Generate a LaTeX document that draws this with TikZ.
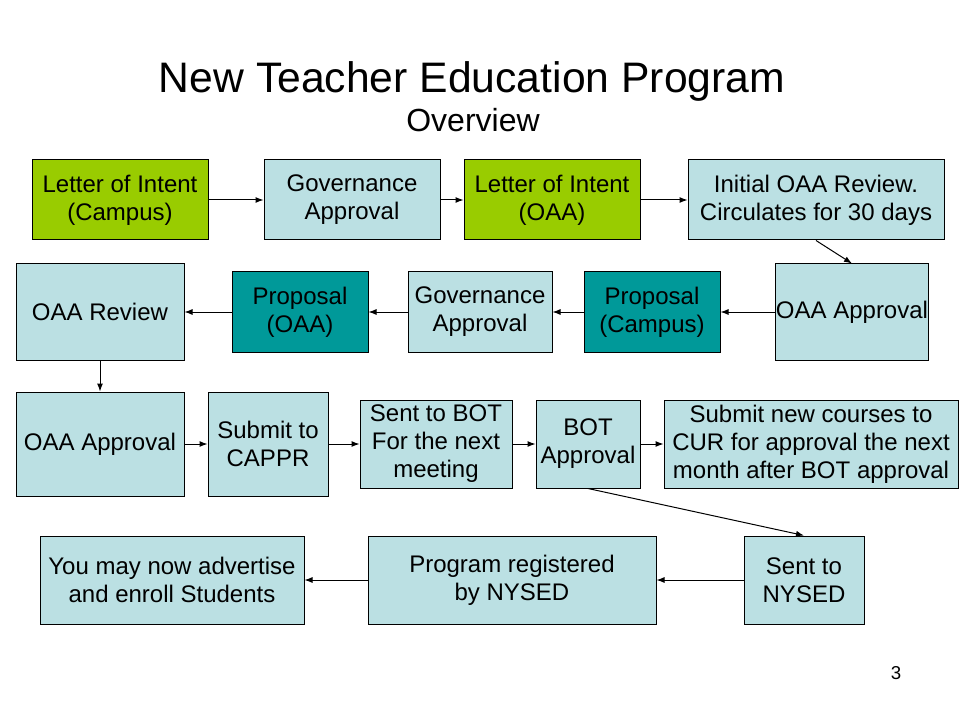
\documentclass[tikz,border=0pt]{standalone}
\usepackage{fontspec}
\setmainfont{Liberation Sans}
\usetikzlibrary{arrows.meta}
\definecolor{paleblue}{RGB}{187,224,227}
\definecolor{lime}{RGB}{153,204,0}
\definecolor{darkteal}{RGB}{0,153,153}

\begin{document}
\begin{tikzpicture}[x=0.75pt, y=-0.75pt, box/.style = {draw, line width=0.75pt, inner sep=0pt, align=center, font=\fontsize{18}{21}\selectfont}, sz/.style 2 args = {minimum width=#1*0.75pt, minimum height=#2*0.75pt}, lb/.style = {box, fill=paleblue}, gr/.style = {box, fill=lime}, tq/.style = {box, fill=darkteal}, arr/.style = {-{Latex[length=6pt,width=4.5pt]}, line width=0.75pt}]
			\useasboundingbox (0,0) rectangle (960,720);
			\node[anchor=base, font=\fontsize{32}{38}\selectfont] (title) at (472,93) {New Teacher Education Program};
			\node[anchor=base, font=\fontsize{24}{28}\selectfont] (sub) at (473,132) {Overview};
			\node[anchor=base, font=\fontsize{14}{16}\selectfont] (page) at (896,679) {3};
			% first row
			\node[gr, sz={176}{80}] (loicampus) at (120,200) {Letter of Intent\\(Campus)};
			\node[lb, sz={176}{80}] (gov1) at (352,200) {Governance\\Approval};
			\node[gr, sz={176}{80}] (loioaa) at (552,200) {Letter of Intent\\(OAA)};
			\node[lb, sz={256}{80}] (initial) at (816,200) {Initial OAA Review.\\Circulates for 30 days};
			% second row
			\node[lb, sz={168}{96}] (oaareview) at (100,312) {OAA Review};
			\node[tq, sz={136}{80}] (propoaa) at (300,312) {Proposal\\(OAA)};
			\node[lb, sz={144}{80}] (gov2) at (480,312) {Governance\\Approval};
			\node[tq, sz={136}{80}] (propcampus) at (652,312) {Proposal\\(Campus)};
			\node[lb, sz={152}{96}] (oaaappr1) at (852,312) {OAA Approval};
			% third row
			\node[lb, sz={168}{104}] (oaaappr2) at (100,444) {OAA Approval};
			\node[lb, sz={120}{104}] (cappr) at (268,444) {Submit to\\CAPPR};
			\node[lb, sz={152}{88}] (sentbot) at (436,444) {Sent to BOT\\For the next\\meeting};
			\node[lb, sz={104}{88}] (botappr) at (588,444) {BOT\\Approval};
			\node[lb, sz={294}{88}] (submitcur) at (811,444) {Submit new courses to\\CUR for approval the next\\month after BOT approval};
			% fourth row
			\node[lb, sz={264}{88}] (advertise) at (172,580) {You may now advertise\\and enroll Students};
			\node[lb, sz={288}{88}] (registered) at (512,580) {Program registered\\by NYSED};
			\node[lb, sz={120}{88}] (sentnysed) at (804,580) {Sent to\\NYSED};

			\draw[arr] (loicampus) -- (gov1);
			\draw[arr] (gov1) -- (loioaa);
			\draw[arr] (loioaa) -- (initial);
			\draw[arr] (initial.south) -- (oaaappr1.north);
			\draw[arr] (oaaappr1) -- (propcampus);
			\draw[arr] (propcampus) -- (gov2);
			\draw[arr] (gov2) -- (propoaa);
			\draw[arr] (propoaa) -- (oaareview);
			\draw[arr] (oaareview) -- (oaaappr2);
			\draw[arr] (oaaappr2) -- (cappr);
			\draw[arr] (cappr) -- (sentbot);
			\draw[arr] (sentbot) -- (botappr);
			\draw[arr] (botappr) -- (submitcur);
			\draw[arr] (botappr.south) -- (sentnysed.north);
			\draw[arr] (sentnysed) -- (registered);
			\draw[arr] (registered) -- (advertise);
			\end{tikzpicture}
\end{document}
